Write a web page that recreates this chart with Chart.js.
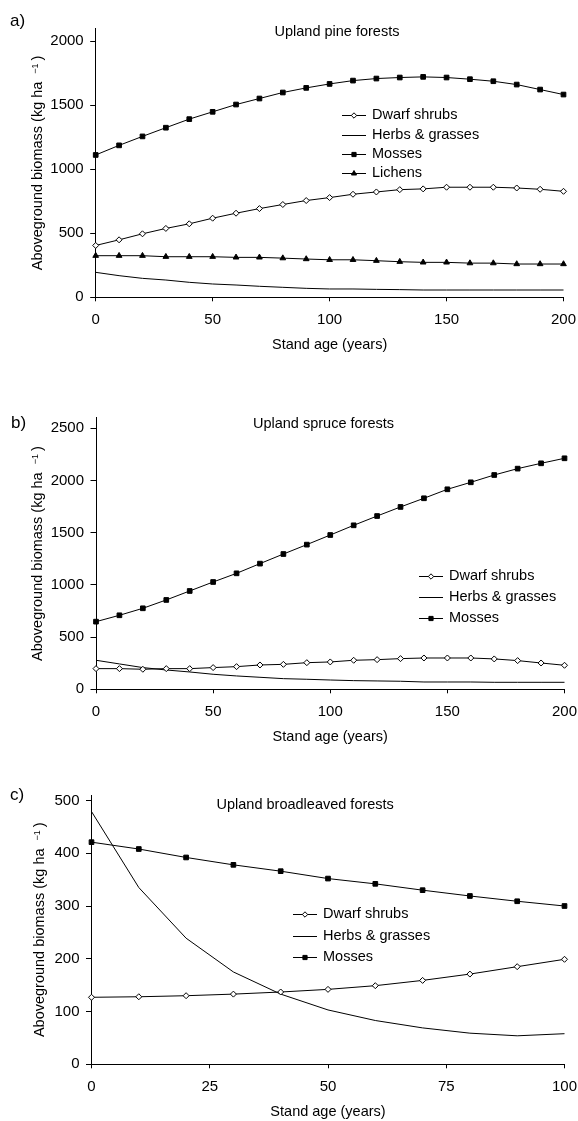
<!DOCTYPE html>
<html>
<head>
<meta charset="utf-8">
<script src="https://cdn.jsdelivr.net/npm/chart.js@4"></script>
<style>
  html, body { margin: 0; padding: 0; background: #fff; }
  body { width: 578px; height: 1121px; position: relative; overflow: hidden; }
  .panel { position: absolute; left: 0; width: 578px; }
  canvas { display: block; }
</style>
</head>
<body>
<div class="panel" style="top:0px;height:370px"><canvas id="cA" width="578" height="370"></canvas></div>
<div class="panel" style="top:370px;height:380px"><canvas id="cB" width="578" height="380"></canvas></div>
<div class="panel" style="top:750px;height:371px"><canvas id="cC" width="578" height="371"></canvas></div>
<script>
// ---------------- DATA ----------------
const agesLong = [0,10,20,30,40,50,60,70,80,90,100,110,120,130,140,150,160,170,180,190,200];
const agesShort = [0,10,20,30,40,50,60,70,80,90,100];

const seriesNamesA = ['Dwarf shrubs', 'Herbs & grasses', 'Mosses', 'Lichens'];
const seriesNamesBC = ['Dwarf shrubs', 'Herbs & grasses', 'Mosses'];

const pineDwarf   = [405,449,496,538,574,618,657,693,725,756,779,805,823,841,847,860,860,860,854,844,828];
const pineHerbs   = [195,169,148,135,117,104,96,86,78,70,65,65,62,60,57,57,57,57,57,57,57];
const pineMosses  = [1112,1187,1257,1325,1392,1449,1506,1553,1600,1636,1667,1693,1709,1717,1722,1717,1704,1688,1662,1623,1584];
const pineLichens = [325,325,325,317,317,317,312,312,306,299,293,293,286,278,273,273,267,267,260,260,260];

const spruceDwarf  = [198,198,192,198,198,208,217,233,239,255,262,278,284,294,300,300,300,291,275,252,230];
const spruceHerbs  = [278,243,208,185,166,144,128,115,102,96,89,83,80,77,70,70,70,67,67,67,67];
const spruceMosses = [648,709,776,856,942,1028,1111,1204,1296,1386,1478,1571,1660,1747,1830,1916,1983,2053,2114,2165,2213];

const broadDwarf  = [127,128,130,133,137,142,149,159,171,185,199];
const broadHerbs  = [479,335,239,175,133,103,83,69,59,54,58];
const broadMosses = [421,408,392,378,366,352,342,330,319,309,300];

const xTicksLong  = [0,50,100,150,200];
const xTicksShort = [0,25,50,75,100];
const yTicksA = [0,500,1000,1500,2000];
const yTicksB = [0,500,1000,1500,2000,2500];
const yTicksC = [0,100,200,300,400,500];

const panelTitles = ['Upland pine forests', 'Upland spruce forests', 'Upland broadleaved forests'];
const panelLetters = ['a)', 'b)', 'c)'];
const xTitle = 'Stand age (years)';
const yTitleMain = 'Aboveground biomass (kg ha';
const yTitleSup = '\u22121';
const yTitleEnd = ')';

// ---------------- STYLE ----------------
const FF = "'Liberation Sans', Arial, Helvetica, sans-serif";
const STYLES = {
  'Dwarf shrubs':    { pointStyle: 'rectRot',  pointRadius: 3,   bg: '#ffffff' },
  'Herbs & grasses': { pointStyle: false,      pointRadius: 0,   bg: '#000000' },
  'Mosses':          { pointStyle: 'rect',     pointRadius: 3.3, bg: '#000000' },
  'Lichens':         { pointStyle: 'triangle', pointRadius: 3.3, bg: '#000000' }
};

function makeDataset(name, xs, ys) {
  const st = STYLES[name];
  return {
    label: name,
    data: xs.map((x, i) => ({ x: x, y: ys[i] })),
    borderColor: '#000',
    borderWidth: 1,
    backgroundColor: st.bg,
    pointStyle: st.pointStyle || 'circle',
    pointRadius: st.pointRadius,
    pointHoverRadius: st.pointRadius,
    pointBorderWidth: 1,
    pointBorderColor: '#000',
    pointBackgroundColor: st.bg,
    tension: 0,
    fill: false,
    clip: false
  };
}

function drawMarker(ctx, style, x, y, r, bg) {
  if (!style) return;
  ctx.beginPath();
  if (style === 'rect') {
    const s = Math.SQRT1_2 * r;
    ctx.rect(x - s, y - s, 2 * s, 2 * s);
  } else if (style === 'rectRot') {
    ctx.moveTo(x - r, y); ctx.lineTo(x, y - r); ctx.lineTo(x + r, y); ctx.lineTo(x, y + r); ctx.closePath();
  } else if (style === 'triangle') {
    let a = 0;
    ctx.moveTo(x + Math.sin(a) * r, y - Math.cos(a) * r);
    a += 2 * Math.PI / 3; ctx.lineTo(x + Math.sin(a) * r, y - Math.cos(a) * r);
    a += 2 * Math.PI / 3; ctx.lineTo(x + Math.sin(a) * r, y - Math.cos(a) * r);
    ctx.closePath();
  }
  ctx.fillStyle = bg; ctx.fill();
  ctx.lineWidth = 1; ctx.strokeStyle = '#000'; ctx.stroke();
}

const decoPlugin = {
  id: 'deco',
  afterDraw(chart, args, o) {
    const ctx = chart.ctx;
    ctx.save();
    ctx.fillStyle = '#000';
    // panel letter
    ctx.font = '17px ' + FF;
    ctx.textAlign = 'left'; ctx.textBaseline = 'alphabetic';
    ctx.fillText(o.letter, o.letterX, o.letterY);
    // panel title
    ctx.font = '14.5px ' + FF;
    ctx.textAlign = 'center';
    ctx.fillText(o.title, o.titleX, o.titleY);
    // y axis title with superscript
    const ca = chart.chartArea;
    const cy = (ca.top + ca.bottom) / 2;
    ctx.save();
    ctx.translate(o.yTitleX, cy);
    ctx.rotate(-Math.PI / 2);
    ctx.textAlign = 'left'; ctx.textBaseline = 'alphabetic';
    ctx.font = '14.5px ' + FF;
    const w1 = ctx.measureText(yTitleMain).width;
    const w3 = ctx.measureText(yTitleEnd).width;
    ctx.font = '9px ' + FF;
    const w2 = ctx.measureText(yTitleSup).width;
    const g1 = 8, g2 = 3;
    const total = w1 + g1 + w2 + g2 + w3;
    let sx = -total / 2;
    ctx.font = '14.5px ' + FF;
    ctx.fillText(yTitleMain, sx, 0);
    sx += w1 + g1;
    ctx.font = '9px ' + FF;
    ctx.fillText(yTitleSup, sx, -4);
    sx += w2 + g2;
    ctx.font = '14.5px ' + FF;
    ctx.fillText(yTitleEnd, sx, 0);
    ctx.restore();
    // legend
    ctx.font = '14.5px ' + FF;
    ctx.textAlign = 'left'; ctx.textBaseline = 'middle';
    chart.data.datasets.forEach((ds, i) => {
      const y = o.legendRows[i];
      const yl = Math.round(y) + 0.5;
      ctx.beginPath();
      ctx.moveTo(o.legendX1, yl); ctx.lineTo(o.legendX2, yl);
      ctx.lineWidth = 1; ctx.strokeStyle = '#000'; ctx.stroke();
      const st = STYLES[ds.label];
      if (st.pointStyle) drawMarker(ctx, st.pointStyle, (o.legendX1 + o.legendX2) / 2, yl, st.pointRadius * 0.9, st.bg);
      ctx.fillStyle = '#000';
      ctx.fillText(ds.label, o.legendTextX, y);
    });
    ctx.restore();
  }
};

const plainNumber = (v) => String(v);

function makeChart(id, cfg) {
  const H = cfg.H;
  return new Chart(document.getElementById(id), {
    type: 'line',
    data: { datasets: cfg.datasets },
    options: {
      responsive: false,
      animation: false,
      devicePixelRatio: 1,
      events: [],
      layout: { padding: { left: 0, top: cfg.top, right: 578 - cfg.right, bottom: 0 } },
      plugins: {
        legend: { display: false },
        tooltip: { enabled: false },
        title: { display: false },
        deco: cfg.deco
      },
      scales: {
        x: {
          type: 'linear',
          min: cfg.xMin, max: cfg.xMax,
          afterBuildTicks: (s) => { s.ticks = cfg.xTicks.map(v => ({ value: v })); },
          afterFit: (s) => { s.height = H - cfg.bottom; s.paddingLeft = 0; s.paddingRight = 0; },
          grid: { display: true, drawOnChartArea: false, drawTicks: true, tickLength: 4, color: '#000', tickColor: '#000', lineWidth: 1 },
          border: { display: true, color: '#000', width: 1 },
          ticks: { color: '#000', font: { family: FF, size: 15 }, padding: 10, maxRotation: 0, autoSkip: false, callback: plainNumber },
          title: { display: true, text: xTitle, color: '#000', font: { family: FF, size: 14.5 }, padding: { top: 0, bottom: cfg.xTitlePad } }
        },
        y: {
          type: 'linear',
          min: 0, max: cfg.yMax,
          afterBuildTicks: (s) => { s.ticks = cfg.yTicks.map(v => ({ value: v })); },
          afterFit: (s) => { s.width = cfg.left; s.paddingTop = 0; s.paddingBottom = 0; },
          grid: { display: true, drawOnChartArea: false, drawTicks: true, tickLength: 5.5, color: '#000', tickColor: '#000', lineWidth: 1 },
          border: { display: true, color: '#000', width: 1 },
          ticks: { color: '#000', font: { family: FF, size: 15 }, padding: 6.5, autoSkip: false, callback: plainNumber }
        }
      }
    },
    plugins: [decoPlugin]
  });
}

// Panel a
makeChart('cA', {
  H: 370, left: 95.7, right: 563.5, top: 28.5, bottom: 297.3,
  xMin: 0, xMax: 200, xTicks: xTicksLong, yMax: 2100, yTicks: yTicksA, xTitlePad: 16.3,
  datasets: [
    makeDataset(seriesNamesA[0], agesLong, pineDwarf),
    makeDataset(seriesNamesA[1], agesLong, pineHerbs),
    makeDataset(seriesNamesA[2], agesLong, pineMosses),
    makeDataset(seriesNamesA[3], agesLong, pineLichens)
  ],
  deco: {
    letter: panelLetters[0], letterX: 10, letterY: 25.7,
    title: panelTitles[0], titleX: 337, titleY: 36,
    yTitleX: 41.7,
    legendX1: 342, legendX2: 366, legendTextX: 372, legendRows: [115, 135, 153.5, 173]
  }
});

// Panel b
makeChart('cB', {
  H: 380, left: 96, right: 564.5, top: 47.9, bottom: 319.3,
  xMin: 0, xMax: 200, xTicks: xTicksLong, yMax: 2600, yTicks: yTicksB, xTitlePad: 4,
  datasets: [
    makeDataset(seriesNamesBC[0], agesLong, spruceDwarf),
    makeDataset(seriesNamesBC[1], agesLong, spruceHerbs),
    makeDataset(seriesNamesBC[2], agesLong, spruceMosses)
  ],
  deco: {
    letter: panelLetters[1], letterX: 11, letterY: 58,
    title: panelTitles[1], titleX: 323.5, titleY: 58.3,
    yTitleX: 41.7,
    legendX1: 419, legendX2: 443, legendTextX: 449, legendRows: [206, 227.3, 248.3]
  }
});

// Panel c
makeChart('cC', {
  H: 371, left: 91.5, right: 564.5, top: 45.2, bottom: 314.3,
  xMin: 0, xMax: 100, xTicks: xTicksShort, yMax: 510, yTicks: yTicksC, xTitlePad: 0.6,
  datasets: [
    makeDataset(seriesNamesBC[0], agesShort, broadDwarf),
    makeDataset(seriesNamesBC[1], agesShort, broadHerbs),
    makeDataset(seriesNamesBC[2], agesShort, broadMosses)
  ],
  deco: {
    letter: panelLetters[2], letterX: 10, letterY: 49.7,
    title: panelTitles[2], titleX: 305.2, titleY: 59.3,
    yTitleX: 44,
    legendX1: 293, legendX2: 317, legendTextX: 323, legendRows: [164, 186, 206.7]
  }
});
</script>
</body>
</html>
